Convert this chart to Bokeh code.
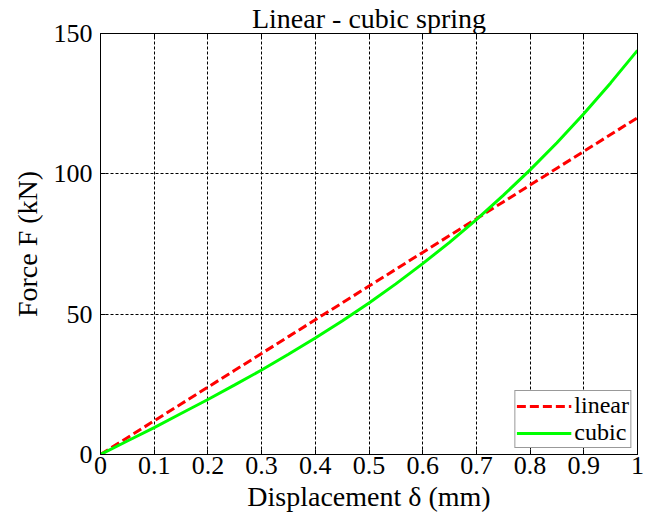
from bokeh.plotting import figure
from bokeh.models import (Range1d, FixedTicker, CustomJSTickFormatter, LinearAxis, Legend, LegendItem)
from bokeh.embed import file_html
from bokeh.resources import INLINE

# Data
delta = [0, 0.05, 0.1, 0.15, 0.2, 0.25, 0.3, 0.35, 0.4, 0.45, 0.5,
         0.55, 0.6, 0.65, 0.7, 0.75, 0.8, 0.85, 0.9, 0.95, 1.0]
linear_force = [0, 6, 12, 18, 24, 30, 36, 42, 48, 54, 60,
                66, 72, 78, 84, 90, 96, 102, 108, 114, 120]
cubic_force = [0, 4.8, 9.6, 14.6, 19.6, 24.8, 30.1, 35.7, 41.5, 47.6, 54.0,
               60.8, 68.0, 75.6, 83.7, 92.3, 101.4, 111.1, 121.4, 132.4, 144.0]
x_ticks = [0, 0.1, 0.2, 0.3, 0.4, 0.5, 0.6, 0.7, 0.8, 0.9, 1.0]
y_ticks = [0, 50, 100, 150]

FONT = "Liberation Serif"
TICK_SIZE = "26px"
LABEL_SIZE = "28px"

p = figure(width=660, height=515, output_backend="svg", toolbar_location=None,
           x_range=Range1d(0, 1), y_range=Range1d(0, 150),
           title="Linear - cubic spring",
           min_border_left=100, min_border_right=23, min_border_top=32, min_border_bottom=61)

p.title.text_font = FONT
p.title.text_font_size = LABEL_SIZE
p.title.text_font_style = "normal"
p.title.text_color = "black"
p.title.align = "center"
p.title.offset = 0
p.title.standoff = 0
p.title.text_line_height = 1.0

fmt = CustomJSTickFormatter(code="var s = tick.toFixed(1); return s.replace(/\\.0$/, '');")
blank = CustomJSTickFormatter(code="return '';")

for ax in [p.xaxis[0], p.yaxis[0]]:
    ax.major_label_text_font = FONT
    ax.major_label_text_font_size = TICK_SIZE
    ax.major_label_text_color = "black"
    ax.axis_label_text_font = FONT
    ax.axis_label_text_font_size = LABEL_SIZE
    ax.axis_label_text_font_style = "normal"
    ax.axis_label_text_color = "black"
    ax.major_tick_in = 5
    ax.major_tick_out = 0
    ax.minor_tick_in = 0
    ax.minor_tick_out = 0
    ax.axis_line_color = "black"
    ax.major_tick_line_color = "black"

p.xaxis[0].ticker = FixedTicker(ticks=x_ticks)
p.xaxis[0].formatter = fmt
p.yaxis[0].ticker = FixedTicker(ticks=y_ticks)
p.xaxis[0].axis_label = "Displacement δ (mm)"
p.yaxis[0].axis_label = "Force F (kN)"
p.xaxis[0].major_label_standoff = 2
p.yaxis[0].major_label_standoff = 8
p.xaxis[0].axis_label_standoff = 4
p.yaxis[0].axis_label_standoff = 8
p.yaxis[0].major_label_orientation = "horizontal"

top = LinearAxis(ticker=FixedTicker(ticks=x_ticks), formatter=blank,
                 major_label_standoff=0,
                 major_tick_in=5, major_tick_out=0, minor_tick_in=0, minor_tick_out=0,
                 axis_line_color="black")
right = LinearAxis(ticker=FixedTicker(ticks=y_ticks), formatter=blank,
                   major_label_standoff=0,
                   major_tick_in=5, major_tick_out=0, minor_tick_in=0, minor_tick_out=0,
                   axis_line_color="black")
p.add_layout(top, "above")
p.add_layout(right, "right")

p.xgrid.ticker = FixedTicker(ticks=x_ticks)
p.ygrid.ticker = FixedTicker(ticks=y_ticks)
for g in [p.xgrid[0], p.ygrid[0]]:
    g.grid_line_color = "black"
    g.grid_line_dash = "3 2"
    g.grid_line_width = 1
    g.grid_line_alpha = 1

p.outline_line_color = "black"
p.outline_line_width = 1
p.outline_line_alpha = 1

r1 = p.line(delta, linear_force, line_color="#ff0000", line_width=3, line_dash="9 4")
r2 = p.line(delta, cubic_force, line_color="#00ff00", line_width=3)

legend = Legend(items=[LegendItem(label="linear", renderers=[r1]),
                       LegendItem(label="cubic", renderers=[r2])],
                location="bottom_right")
legend.label_text_font = FONT
legend.label_text_font_size = "24px"
legend.label_text_color = "black"
legend.label_height = 18
legend.glyph_width = 55
legend.glyph_height = 18
legend.spacing = 0
legend.padding = 1
legend.margin = 6
legend.label_standoff = 3
legend.border_line_color = "#333333"
legend.border_line_width = 1
legend.background_fill_alpha = 1
p.add_layout(legend, "center")

open("out.html", "w").write(file_html(p, INLINE))
